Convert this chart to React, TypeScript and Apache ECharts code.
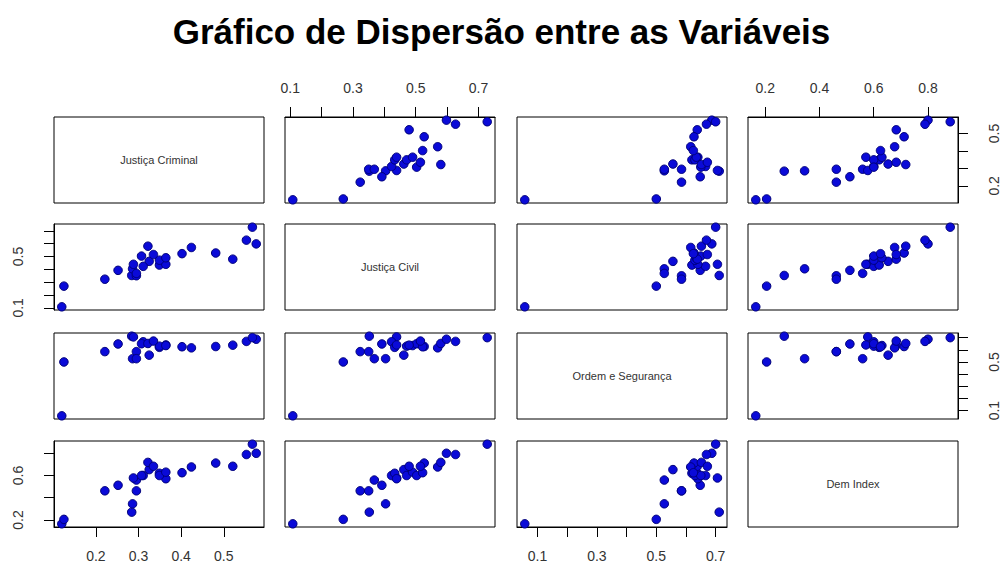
import React, { useEffect, useRef } from "react";
import * as echarts from "echarts";

// Variable names (diagonal labels)
const varNames = ["Justiça Criminal", "Justiça Civil", "Ordem e Segurança", "Dem Index"];

const justicaCriminal = [0.120, 0.125, 0.284, 0.286, 0.295, 0.221, 0.252, 0.295, 0.325, 0.288, 0.311, 0.349, 0.364, 0.349, 0.364, 0.307, 0.521, 0.481, 0.424, 0.402, 0.322, 0.335, 0.576, 0.553, 0.567];
const justicaCivil = [0.108, 0.269, 0.352, 0.404, 0.350, 0.323, 0.392, 0.368, 0.462, 0.439, 0.423, 0.433, 0.439, 0.471, 0.490, 0.503, 0.479, 0.527, 0.570, 0.522, 0.580, 0.515, 0.598, 0.627, 0.728];
const ordemSeguranca = [0.057, 0.500, 0.712, 0.527, 0.585, 0.585, 0.648, 0.527, 0.556, 0.706, 0.666, 0.620, 0.640, 0.630, 0.635, 0.650, 0.638, 0.627, 0.616, 0.625, 0.652, 0.672, 0.687, 0.669, 0.700];
const demIndex = [0.165, 0.205, 0.270, 0.345, 0.462, 0.462, 0.512, 0.559, 0.653, 0.578, 0.600, 0.620, 0.571, 0.600, 0.630, 0.600, 0.683, 0.712, 0.677, 0.625, 0.718, 0.683, 0.800, 0.789, 0.882];

const variables = [justicaCriminal, justicaCivil, ordemSeguranca, demIndex];

// Tick values / tick labels for outer axes
const colTicks = [
  [0.2, 0.3, 0.4, 0.5],
  [0.1, 0.2, 0.3, 0.4, 0.5, 0.6, 0.7],
  [0.1, 0.2, 0.3, 0.4, 0.5, 0.6, 0.7],
  [0.2, 0.4, 0.6, 0.8],
];
const colLabels = [
  [0.2, 0.3, 0.4, 0.5],
  [0.1, 0.3, 0.5, 0.7],
  [0.1, 0.3, 0.5, 0.7],
  [0.2, 0.4, 0.6, 0.8],
];
const rowTicks = [
  [0.2, 0.3, 0.4, 0.5],
  [0.1, 0.2, 0.3, 0.4, 0.5, 0.6, 0.7],
  [0.1, 0.2, 0.3, 0.4, 0.5, 0.6, 0.7],
  [0.2, 0.4, 0.6, 0.8],
];
const rowLabels = [
  [0.2, 0.5],
  [0.1, 0.5],
  [0.1, 0.5],
  [0.2, 0.6],
];

const titleText = "Gráfico de Dispersão entre as Variáveis";

// Layout
const colLeft = [54, 285, 517, 748];
const rowTop = [117, 224, 333, 441];
const panelW = 210;
const panelH = 86;

function range(arr: number[]) {
  const mn = Math.min(...arr);
  const mx = Math.max(...arr);
  const d = mx - mn;
  return { min: mn - 0.04 * d, max: mx + 0.04 * d };
}

export default function App() {
  const ref = useRef<HTMLDivElement>(null);
  useEffect(() => {
    if (!ref.current) return;
    const chart = echarts.init(ref.current, undefined, { renderer: "svg" });
    const grids: any[] = [];
    const xAxes: any[] = [];
    const yAxes: any[] = [];
    const series: any[] = [];
    const graphics: any[] = [];
    const font = "Liberation Sans, Arial, sans-serif";
    let idx = 0;
    for (let i = 0; i < 4; i++) {
      for (let j = 0; j < 4; j++) {
        grids.push({
          left: colLeft[j],
          top: rowTop[i],
          width: panelW,
          height: panelH,
          show: true,
          borderColor: "#000",
          borderWidth: 1,
          backgroundColor: "transparent",
          containLabel: false,
        });
        if (i === j) {
          xAxes.push({ gridIndex: idx, type: "value", show: false, min: 0, max: 1 });
          yAxes.push({ gridIndex: idx, type: "value", show: false, min: 0, max: 1 });
          graphics.push({
            type: "text",
            x: colLeft[j] + panelW / 2,
            y: rowTop[i] + panelH / 2,
            style: {
              text: varNames[i],
              fill: "#333",
              font: `11px ${font}`,
              textAlign: "center",
              textVerticalAlign: "middle",
            },
          });
        } else {
          const xr = range(variables[j]);
          const yr = range(variables[i]);
          const xPos = j % 2 === 0 ? "bottom" : "top";
          const showX = (j % 2 === 0 && i === 3) || (j % 2 === 1 && i === 0);
          const yPos = i % 2 === 0 ? "right" : "left";
          const showY = (i % 2 === 0 && j === 3) || (i % 2 === 1 && j === 0);
          xAxes.push({
            gridIndex: idx,
            type: "value",
            min: xr.min,
            max: xr.max,
            position: xPos,
            show: showX,
            axisLine: { show: true, onZero: false, lineStyle: { color: "#000", width: 1 } },
            axisTick: {
              show: true,
              inside: false,
              length: 10,
              lineStyle: { color: "#000", width: 1 },
              customValues: colTicks[j],
            },
            axisLabel: {
              show: true,
              margin: 22,
              fontSize: 14,
              color: "#333",
              fontFamily: font,
              customValues: colLabels[j],
              formatter: (v: number) => v.toFixed(1),
            },
            splitLine: { show: false },
          });
          yAxes.push({
            gridIndex: idx,
            type: "value",
            min: yr.min,
            max: yr.max,
            position: yPos,
            show: showY,
            axisLine: { show: true, onZero: false, lineStyle: { color: "#000", width: 1 } },
            axisTick: {
              show: true,
              inside: false,
              length: 10,
              lineStyle: { color: "#000", width: 1 },
              customValues: rowTicks[i],
            },
            axisLabel: {
              show: true,
              margin: 29,
              rotate: 90,
              fontSize: 14,
              color: "#333",
              fontFamily: font,
              customValues: rowLabels[i],
              formatter: (v: number) => v.toFixed(1),
            },
            splitLine: { show: false },
          });
          series.push({
            type: "scatter",
            xAxisIndex: idx,
            yAxisIndex: idx,
            symbol: "circle",
            symbolSize: 8.5,
            itemStyle: { color: "#0a0ad8", borderColor: "#00007a", borderWidth: 1, opacity: 1 },
            data: variables[j].map((v, k) => [v, variables[i][k]]),
            clip: false,
          });
        }
        idx++;
      }
    }
    chart.setOption({
      animation: false,
      backgroundColor: "#fff",
      title: {
        text: titleText,
        left: "center",
        top: 9,
        textStyle: { fontSize: 35, fontWeight: "bold", color: "#000", fontFamily: font },
      },
      grid: grids,
      xAxis: xAxes,
      yAxis: yAxes,
      series,
      graphic: graphics,
    });
    return () => chart.dispose();
  }, []);
  return (
    <div
      ref={ref}
      style={{ position: "fixed", left: 0, top: 0, width: 1003, height: 573, background: "#fff" }}
    />
  );
}
